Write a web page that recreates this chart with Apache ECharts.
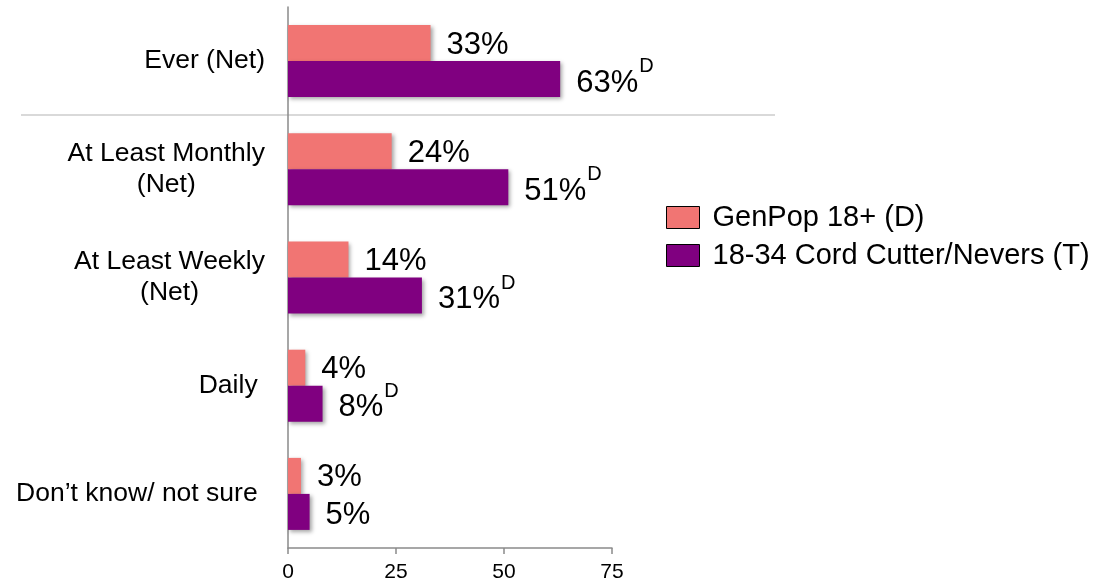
<!DOCTYPE html>
<html>
<head>
<meta charset="utf-8">
<script src="https://cdn.jsdelivr.net/npm/echarts@6/dist/echarts.min.js"></script>
<style>
html,body{margin:0;padding:0;background:#fff;}
#chart{width:1095px;height:583px;}
</style>
</head>
<body>
<div id="chart"></div>
<script>
const categories = ['Ever (Net)', 'At Least Monthly\n(Net)', 'At Least Weekly\n(Net)', 'Daily ', 'Don\u2019t know/ not sure '];
const seriesNames = ['GenPop 18+ (D)', '18-34 Cord Cutter/Nevers (T)'];
const genpopValues = [33, 24, 14, 4, 3];
const cordCutterValues = [63, 51, 31, 8, 5];
const cordCutterSig = ['D', 'D', 'D', 'D', ''];
const xTicks = [0, 25, 50, 75];

const FONT = "'Liberation Sans', Arial, sans-serif";
const chart = echarts.init(document.getElementById('chart'), null, {renderer: 'canvas'});

const barShadow = {shadowColor: 'rgba(0,0,0,0.35)', shadowBlur: 4, shadowOffsetX: 2, shadowOffsetY: 2};
const richLabel = {
  a: {fontSize: 31, lineHeight: 31, color: '#000', fontFamily: FONT, verticalAlign: 'middle'},
  d: {fontSize: 20, lineHeight: 20, color: '#000', fontFamily: FONT, verticalAlign: 'middle', padding: [0, 0, 33, 1]}
};

chart.setOption({
  animation: false,
  backgroundColor: '#fff',
  textStyle: {fontFamily: FONT},
  grid: {left: 288, top: 7, width: 324, height: 542, containLabel: false},
  legend: {
    orient: 'vertical',
    left: 661,
    top: 198,
    itemWidth: 33,
    itemHeight: 22,
    itemGap: 9,
    icon: 'rect',
    data: seriesNames,
    textStyle: {fontSize: 29, lineHeight: 29, color: '#000', fontFamily: FONT, padding: [0, 0, 0, 8]},
    itemStyle: {borderColor: '#000', borderWidth: 1, shadowBlur: 0, shadowOffsetX: 0, shadowOffsetY: 0}
  },
  xAxis: {
    type: 'value',
    min: xTicks[0],
    max: xTicks[xTicks.length - 1],
    interval: xTicks[1] - xTicks[0],
    axisLine: {show: true, lineStyle: {color: '#8a8a8a', width: 1.5}},
    axisTick: {show: true, length: 6, lineStyle: {color: '#8a8a8a', width: 1.5}},
    splitLine: {show: false},
    axisLabel: {fontSize: 21, color: '#000', margin: 14, fontFamily: FONT}
  },
  yAxis: {
    type: 'category',
    inverse: true,
    data: categories,
    axisLine: {show: true, lineStyle: {color: '#8a8a8a', width: 1.5}},
    axisTick: {show: false},
    splitLine: {show: false},
    axisLabel: {
      margin: 23,
      formatter: function (v) {
        return v.split('\n').map(function (s) { return '{c|' + s + '}'; }).join('\n');
      },
      rich: {c: {fontSize: 26.5, lineHeight: 31, color: '#000', fontFamily: FONT, align: 'center'}}
    }
  },
  series: [
    {
      name: seriesNames[0],
      type: 'bar',
      data: genpopValues,
      barWidth: 36,
      barGap: '0%',
      itemStyle: Object.assign({color: '#F17573'}, barShadow),
      label: {
        show: true, position: 'right', distance: 16, offset: [0, 2],
        formatter: function (p) { return '{a|' + p.value + '%}'; },
        rich: richLabel
      }
    },
    {
      name: seriesNames[1],
      type: 'bar',
      data: cordCutterValues,
      barWidth: 36,
      barGap: '0%',
      itemStyle: Object.assign({color: '#800080'}, barShadow),
      label: {
        show: true, position: 'right', distance: 16, offset: [0, 4],
        formatter: function (p) {
          const s = cordCutterSig[p.dataIndex];
          return '{a|' + p.value + '%}' + (s ? '{d|' + s + '}' : '');
        },
        rich: richLabel
      }
    }
  ]
});

// separator line between first and second category bands
const y0 = chart.convertToPixel({yAxisIndex: 0}, categories[0]);
const y1 = chart.convertToPixel({yAxisIndex: 0}, categories[1]);
const sepY = Math.round((y0 + y1) / 2);
chart.setOption({
  graphic: [{
    type: 'line', z: -1,
    shape: {x1: 21, y1: sepY, x2: 775, y2: sepY},
    style: {stroke: '#D9D9D9', lineWidth: 2}
  }]
});
</script>
</body>
</html>
